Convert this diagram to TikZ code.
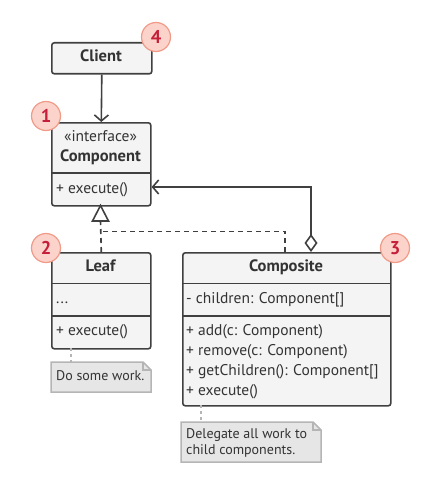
\documentclass[tikz,border=0pt]{standalone}
\usepackage{fontspec}
\setmainfont{PT Sans}
\usetikzlibrary{arrows.meta,shapes.misc}
\definecolor{boxfill}{HTML}{F4F4F4}
\definecolor{boxline}{HTML}{404040}
\definecolor{txt}{HTML}{333333}
\definecolor{notefill}{HTML}{E6E6E6}
\definecolor{noteline}{HTML}{B5B5B5}
\definecolor{badgefill}{HTML}{FCD3CA}
\definecolor{badgeline}{HTML}{F09A88}
\definecolor{badgetxt}{HTML}{C41E3A}
\tikzset{
  umlbox/.style={draw=boxline, fill=boxfill, line width=1.6pt, rounded corners=2.5pt, inner sep=0pt, anchor=north west},
  divline/.style={draw=boxline, line width=1.6pt},
  lbl/.style={anchor=west, inner sep=0pt, text=txt, font=\fontsize{15.5}{17}\selectfont, text height=11pt, text depth=3.5pt},
  ttl/.style={anchor=center, inner sep=0pt, text=txt, font=\fontsize{16.5}{18}\selectfont\bfseries, text height=11pt, text depth=3.5pt},
  badge/.style={circle, draw=badgeline, fill=badgefill, line width=1.2pt, minimum size=29pt, inner sep=0pt, text=badgetxt, font=\fontsize{18.5}{20}\selectfont\bfseries},
  conn/.style={draw=boxline, line width=1.6pt},
  dconn/.style={draw=boxline, line width=1.6pt, dash pattern=on 5pt off 4pt},
  notebox/.style={draw=noteline, fill=notefill, line width=1.5pt},
  notelink/.style={draw=noteline, line width=1.5pt, dash pattern=on 3pt off 3pt},
  notetxt/.style={anchor=west, inner sep=0pt, text=txt, font=\fontsize{14}{16}\selectfont, text height=10pt, text depth=3pt},
}
\begin{document}
\begin{tikzpicture}[x=1pt,y=-1pt]
\useasboundingbox (0,0) rectangle (432,484);

% Client
\node[umlbox, minimum width=100pt, minimum height=31pt] (client) at (51,42) {};
\node[ttl] (clientt) at (101,57.5) {Client};

% Component
\node[umlbox, minimum width=99pt, minimum height=83pt] (comp) at (51,122) {};
\draw[divline] (51,173) -- (150,173);
\node[lbl, anchor=center] (compst) at (100.5,137.5) {«interface»};
\node[ttl] (compt) at (100.5,158) {Component};
\node[lbl] (compm) at (56,190) {+ execute()};

% Leaf
\node[umlbox, minimum width=99pt, minimum height=96pt] (leaf) at (51,252) {};
\draw[divline] (51,283.5) -- (150,283.5);
\draw[divline] (51,316) -- (150,316);
\node[ttl] (leaft) at (100.5,268) {Leaf};
\node[lbl] (leaff) at (56,300) {...};
\node[lbl] (leafm) at (56,332) {+ execute()};

% Composite
\node[umlbox, minimum width=208pt, minimum height=153pt] (cmp) at (182,252) {};
\draw[divline] (182,283.5) -- (390,283.5);
\draw[divline] (182,316) -- (390,316);
\node[ttl] (cmpt) at (286,268) {Composite};
\node[lbl] (cmpf) at (186,300) {- children: Component[]};
\node[lbl] (cmpm1) at (186,332) {+ add(c: Component)};
\node[lbl] (cmpm2) at (186,352) {+ remove(c: Component)};
\node[lbl] (cmpm3) at (186,372) {+ getChildren(): Component[]};
\node[lbl] (cmpm4) at (186,392) {+ execute()};

% connectors
\draw[conn, -{Straight Barb[length=6pt,width=14pt,line width=1.6pt]}] (client.south) -- (comp.north);

\coordinate (gjoin) at (100.5,231.5);
\coordinate (cjoin) at (285,231.5);
\draw[dconn] (leaf.north) -- (100.5,221);
\draw[dconn] (cmp.north -| cjoin) -- (cjoin) -- (gjoin);
\draw[conn, fill=white] (100.5,205.5) -- (108.5,221) -- (92.5,221) -- cycle;

\coordinate (aggcorner) at (311,187);
\draw[conn, {Diamond[open,length=18pt,width=13pt,line width=1.6pt,fill=white]}-{Straight Barb[length=6pt,width=14pt,line width=1.6pt]}] (cmp.north -| aggcorner) -- (aggcorner) -- (comp.east |- aggcorner);

% notes
\coordinate (n1l) at (71,348);
\draw[notelink] (n1l) -- (71,362);
\draw[notebox] (51,362) -- (143,362) -- (151,370) -- (151,392) -- (51,392) -- cycle;
\draw[noteline, line width=1.2pt] (143,362) -- (143,370) -- (151,370);
\node[notetxt] (n1t) at (56,377) {Do some work.};

\coordinate (n2l) at (201,405);
\draw[notelink] (n2l) -- (201,422);
\draw[notebox] (181,422) -- (313,422) -- (321,430) -- (321,462) -- (181,462) -- cycle;
\draw[noteline, line width=1.2pt] (313,422) -- (313,430) -- (321,430);
\node[notetxt] (n2t) at (186,435) {Delegate all work to};
\node[notetxt] (n2t2) at (186,451) {child components.};

% badges
\node[badge] (b4) at (156,37) {4};
\node[badge] (b1) at (46,116) {1};
\node[badge] (b2) at (46,248) {2};
\node[badge] (b3) at (395,248) {3};
\end{tikzpicture}
\end{document}
